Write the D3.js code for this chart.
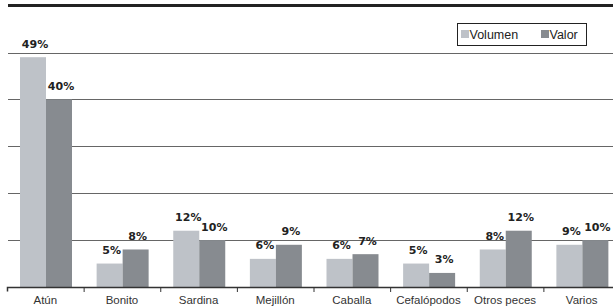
<!DOCTYPE html>
<html>
<head>
<meta charset="utf-8">
<script src="https://cdn.jsdelivr.net/npm/d3@7"></script>
<style>
  body { margin: 0; background: #fff; }
  svg { display: block; }
</style>
</head>
<body>
<div id="chart"></div>
<script>
const categories = ["Atún", "Bonito", "Sardina", "Mejillón", "Caballa", "Cefalópodos", "Otros peces", "Varios"];
const volumen = [49, 5, 12, 6, 6, 5, 8, 9];
const valor = [40, 8, 10, 9, 7, 3, 12, 10];
const seriesNames = ["Volumen", "Valor"];
const gridTicks = [10, 20, 30, 40, 50];

const width = 613, height = 307;
const colors = ["#bec2c8", "#878b90"];

const svg = d3.select("#chart").append("svg")
    .attr("width", width)
    .attr("height", height);

const x = d3.scaleBand()
    .domain(categories)
    .range([7, 620])
    .paddingInner(0)
    .paddingOuter(0);

const xSub = d3.scaleBand()
    .domain(seriesNames)
    .range([13, 65]);

const y = d3.scaleLinear()
    .domain([0, 50])
    .range([287, 52.5]);

// top rule
svg.append("rect")
    .attr("x", 8).attr("y", 4)
    .attr("width", width - 8).attr("height", 3)
    .attr("fill", "#222");

// gridlines
svg.append("g")
    .selectAll("line")
    .data(gridTicks)
    .join("line")
    .attr("x1", 8).attr("x2", width)
    .attr("y1", d => Math.round(y(d)) + 0.5)
    .attr("y2", d => Math.round(y(d)) + 0.5)
    .attr("stroke", "#666")
    .attr("stroke-width", 1);

// bars
const data = categories.map((c, i) => ({ cat: c, values: [volumen[i], valor[i]] }));

const groups = svg.append("g")
    .selectAll("g")
    .data(data)
    .join("g")
    .attr("transform", d => `translate(${x(d.cat)},0)`);

groups.selectAll("rect")
    .data(d => d.values.map((v, j) => ({ key: seriesNames[j], v, j })))
    .join("rect")
    .attr("x", d => xSub(d.key))
    .attr("y", d => y(d.v))
    .attr("width", xSub.bandwidth())
    .attr("height", d => y(0) - y(d.v))
    .attr("fill", d => colors[d.j]);

groups.selectAll("text.val")
    .data(d => d.values.map((v, j) => ({ key: seriesNames[j], v, j })))
    .join("text")
    .attr("class", "val")
    .attr("x", d => xSub(d.key) + xSub.bandwidth() / 2 + 2)
    .attr("y", d => y(d.v) - 9.5)
    .attr("text-anchor", "middle")
    .attr("font-family", "DejaVu Sans, sans-serif")
    .attr("font-weight", "bold")
    .attr("font-size", 11)
    .attr("fill", "#222")
    .text(d => d.v + "%");

// x axis
const xAxis = svg.append("g")
    .attr("transform", `translate(0,${y(0)})`)
    .call(d3.axisBottom(x).tickSize(0).tickPadding(9));
xAxis.select(".domain")
    .attr("d", `M7.5,4.5V0.5H${width}`)
    .attr("stroke", "#333")
    .attr("stroke-width", 1.5);
xAxis.selectAll(".tick text")
    .attr("font-family", "Liberation Sans, Arial, sans-serif")
    .attr("font-size", 11.5)
    .attr("fill", "#333");
xAxis.selectAll(".sep")
    .data(categories.slice(1))
    .join("line")
    .attr("class", "sep")
    .attr("x1", d => x(d) + 0.5).attr("x2", d => x(d) + 0.5)
    .attr("y1", 0).attr("y2", 5)
    .attr("stroke", "#333");

// legend
const legend = svg.append("g");
legend.append("rect")
    .attr("x", 457.5).attr("y", 23.5)
    .attr("width", 129).attr("height", 22)
    .attr("fill", "#fff")
    .attr("stroke", "#222");
const legendX = [461, 541];
seriesNames.forEach((s, i) => {
    legend.append("rect")
        .attr("x", legendX[i]).attr("y", 30)
        .attr("width", 8).attr("height", 8)
        .attr("fill", colors[i]);
    legend.append("text")
        .attr("x", legendX[i] + 8.5).attr("y", 39)
        .attr("font-family", "Liberation Sans, Arial, sans-serif")
        .attr("font-size", 12.5)
        .attr("fill", "#222")
        .text(s);
});
</script>
</body>
</html>
